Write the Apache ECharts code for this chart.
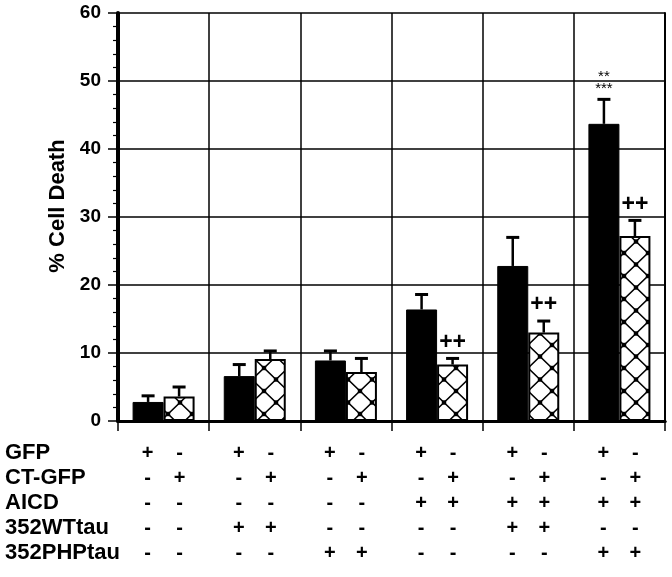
<!DOCTYPE html>
<html><head><meta charset="utf-8">
<script src="https://cdn.jsdelivr.net/npm/echarts@6/dist/echarts.min.js"></script>
<style>html,body{margin:0;padding:0;background:#fff}#c{width:672px;height:577px}</style>
</head><body><div id="c"></div>
<script>
const groups = ['G1','G2','G3','G4','G5','G6'];
const gfpMean = [2.8, 6.6, 8.9, 16.4, 22.8, 43.7];
const gfpSem  = [0.9, 1.7, 1.4, 2.2, 4.2, 3.6];
const ctMean  = [3.6, 9.1, 7.2, 8.3, 13.0, 27.2];
const ctSem   = [1.4, 1.2, 2.0, 0.9, 1.7, 2.3];
const gfpNote = ['', '', '', '', '', '**\n***'];
const ctNote  = ['', '', '', '++', '++', '++'];
const rowNames = ['GFP', 'CT-GFP', 'AICD', '352WTtau', '352PHPtau'];
const rowSigns = [
  ['+','-','+','-','+','-','+','-','+','-','+','-'],
  ['-','+','-','+','-','+','-','+','-','+','-','+'],
  ['-','-','-','-','-','-','+','+','+','+','+','+'],
  ['-','-','+','+','-','-','-','-','+','+','-','-'],
  ['-','-','-','-','+','+','-','-','-','-','+','+']
];
const yTicks = {min: 0, max: 60, interval: 10};
const yName = '% Cell Death';

const FONT = 'Liberation Sans, Arial, sans-serif';
const BW = 31;

// crosshatch pattern
const pc = document.createElement('canvas');
pc.width = 24; pc.height = 23;
const g = pc.getContext('2d');
g.fillStyle = '#fff'; g.fillRect(0,0,24,23);
g.strokeStyle = '#000'; g.lineWidth = 1.6;
g.beginPath(); g.moveTo(0,0); g.lineTo(24,23); g.moveTo(24,0); g.lineTo(0,23); g.stroke();
g.fillStyle = '#000';
[[0,0],[24,0],[0,23],[24,23],[12,11.5]].forEach(p => g.fillRect(p[0]-2.2, p[1]-2.2, 4.4, 4.4));

const chart = echarts.init(document.getElementById('c'), null, {renderer: 'canvas'});

function errSeries(name, means, sems, notes, dx, noteStyle) {
  return {
    type: 'custom', name: name, z: 5,
    data: means.map((m, i) => [i, m, m + sems[i]]),
    renderItem: function (params, api) {
      const i = api.value(0);
      const base = api.coord([i, api.value(1)]);
      const top = api.coord([i, api.value(2)]);
      const x = base[0] + dx;
      const children = [
        {type: 'line', shape: {x1: x, y1: base[1], x2: x, y2: top[1]}, style: {stroke: '#000', lineWidth: 2.5}},
        {type: 'line', shape: {x1: x - 6.5, y1: top[1], x2: x + 6.5, y2: top[1]}, style: {stroke: '#000', lineWidth: 3}}
      ];
      const note = notes[i];
      if (note) {
        children.push({type: 'text', style: Object.assign({text: note, x: x, y: top[1] - 5, align: 'center', verticalAlign: 'bottom', fill: '#000', fontFamily: FONT}, noteStyle)});
      }
      return {type: 'group', children: children};
    }
  };
}

const labelRich = {
  c: {width: BW + 1, align: 'center', fontSize: 20, fontWeight: 'bold', fontFamily: FONT, color: '#000', lineHeight: 25}
};

chart.setOption({
  animation: false,
  backgroundColor: '#fff',
  grid: {left: 118, right: 7, top: 13, bottom: 156},
  xAxis: [{
    type: 'category', data: groups, position: 'bottom',
    axisLine: {lineStyle: {color: '#000', width: 3}},
    axisTick: {show: true, length: 10, lineStyle: {color: '#000', width: 1.5}},
    splitLine: {show: true, lineStyle: {color: '#000', width: 1.5}},
    axisLabel: {
      margin: 20, interval: 0,
      formatter: function (v, idx) {
        return rowSigns.map(r => '{c|' + r[idx*2] + '}{c|' + r[idx*2+1] + '}').join('\n');
      },
      rich: labelRich
    }
  }, {
    type: 'category', data: groups, position: 'top',
    axisLine: {show: true, lineStyle: {color: '#000', width: 3}},
    axisTick: {show: false}, axisLabel: {show: false}
  }],
  yAxis: [{
    type: 'value', min: yTicks.min, max: yTicks.max, interval: yTicks.interval,
    axisLine: {show: true, lineStyle: {color: '#000', width: 4}},
    axisTick: {show: true, length: 10, lineStyle: {color: '#000', width: 1.5}},
    minorTick: {show: true, splitNumber: 5, length: 5, lineStyle: {color: '#000', width: 1.2}},
    splitLine: {show: true, lineStyle: {color: '#000', width: 1.5}},
    axisLabel: {fontSize: 19, fontWeight: 'bold', fontFamily: FONT, color: '#000', margin: 17}
  }, {
    type: 'value', min: yTicks.min, max: yTicks.max, interval: yTicks.interval, position: 'right',
    axisLine: {show: true, lineStyle: {color: '#000', width: 2}},
    axisTick: {show: false}, axisLabel: {show: false}, splitLine: {show: false}
  }],
  series: [
    {type: 'bar', name: 'GFP', data: gfpMean, barWidth: BW, barGap: '0%', z: 3,
     itemStyle: {color: '#000', borderColor: '#000', borderWidth: 1}},
    {type: 'bar', name: 'CT-GFP', data: ctMean, barWidth: BW, barGap: '0%', z: 3,
     itemStyle: {color: {image: pc, repeat: 'repeat'}, borderColor: '#000', borderWidth: 2}},
    errSeries('GFP err', gfpMean, gfpSem, gfpNote, -BW/2, {fontSize: 15, fontWeight: 'normal', lineHeight: 12}),
    errSeries('CT err', ctMean, ctSem, ctNote, BW/2, {fontSize: 23, fontWeight: 'bold', lineHeight: 22})
  ],
  graphic: rowNames.map((n, i) => ({
    type: 'text', x: 5, y: 453 + i * 25,
    style: {text: n, fontSize: 22, fontWeight: 'bold', fontFamily: FONT, fill: '#000', verticalAlign: 'middle'}
  })).concat([{
    type: 'text', x: 58, y: 206, rotation: Math.PI / 2,
    style: {text: yName, fontSize: 22, fontWeight: 'bold', fontFamily: FONT, fill: '#000', align: 'center', verticalAlign: 'middle'}
  }])
});
</script></body></html>
